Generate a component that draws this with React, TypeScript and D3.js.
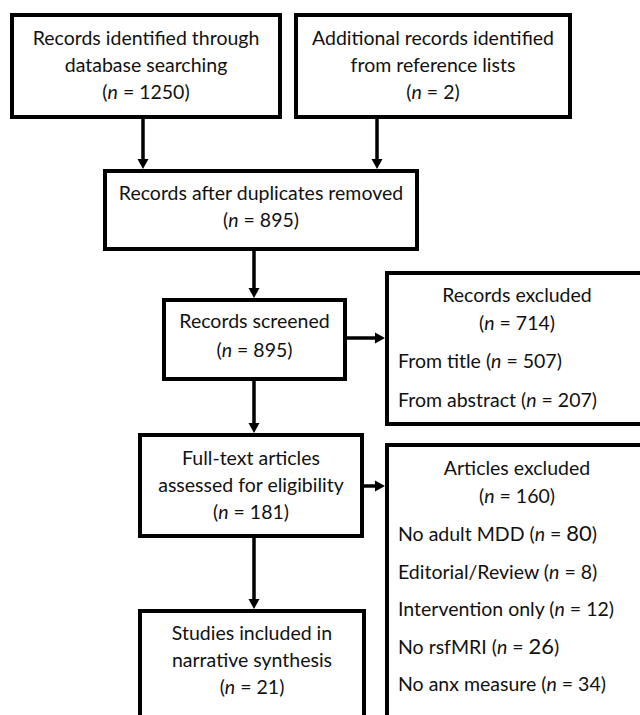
import React from "react";
import * as d3 from "d3";

// ---- data ----
const identificationLabels = [
  ["Records identified through", "database searching"],
  ["Additional records identified", "from reference lists"],
];
const identificationCounts = [1250, 2];

const stageLabels = [
  ["Records after duplicates removed"],
  ["Records screened"],
  ["Full-text articles", "assessed for eligibility"],
  ["Studies included in", "narrative synthesis"],
];
const stageCounts = [895, 895, 181, 21];

const recordsExcludedTitle = "Records excluded";
const recordsExcludedTotal = 714;
const recordsExcludedReasons = ["From title", "From abstract"];
const recordsExcludedCounts = [507, 207];

const articlesExcludedTitle = "Articles excluded";
const articlesExcludedTotal = 160;
const articlesExcludedReasons = ["No adult MDD", "Editorial/Review", "Intervention only", "No rsfMRI", "No anx measure"];
const articlesExcludedCounts = [80, 8, 12, 26, 34];
// counts that were typeset in a slightly larger font in the original
const largerCounts = [80, 26];

// ---- layout ----
const W = 640;
const H = 715;
const FONT = "Lato, 'Open Sans', sans-serif";
const FS = 19.5;
const LINE = 27;
const STROKE = 4;

type Box = { x0: number; x1: number; y0: number; y1: number };
const idBoxes: Box[] = [
  { x0: 12, x1: 280, y0: 15, y1: 117 },
  { x0: 296, x1: 570, y0: 15, y1: 117 },
];
const stageBoxes: Box[] = [
  { x0: 105, x1: 417, y0: 171, y1: 249 },
  { x0: 164, x1: 345, y0: 300, y1: 379 },
  { x0: 140, x1: 362, y0: 435, y1: 536 },
  { x0: 140, x1: 364, y0: 611, y1: 760 },
];
const exclBoxes: Box[] = [
  { x0: 387, x1: 662, y0: 273, y1: 424 },
  { x0: 387, x1: 662, y0: 445, y1: 760 },
];
const idFirstBaseline = 45;
const stageFirstBaselines = [200, 328, 465, 640];
const exclHeaderBaselines = [302, 475];
const exclItemBaselines = [368, 541];
const exclItemSteps = [39, 37.5];

const line = d3.line<[number, number]>();

function CountText({ n, size = FS }: { n: number; size?: number }) {
  const big = largerCounts.includes(n);
  return (
    <>
      (<tspan fontStyle="italic">n</tspan> = <tspan fontSize={big ? size + 2.5 : size}>{n}</tspan>)
    </>
  );
}

function Arrow({ from, to }: { from: [number, number]; to: [number, number] }) {
  const ang = Math.atan2(to[1] - from[1], to[0] - from[0]);
  const L = 10;
  const hw = 5.5;
  const base: [number, number] = [to[0] - L * Math.cos(ang), to[1] - L * Math.sin(ang)];
  const p1: [number, number] = [base[0] + hw * Math.sin(ang), base[1] - hw * Math.cos(ang)];
  const p2: [number, number] = [base[0] - hw * Math.sin(ang), base[1] + hw * Math.cos(ang)];
  return (
    <g>
      <path d={line([from, base]) || ""} stroke="#000" strokeWidth={3.5} fill="none" />
      <path d={(line([to, p1, p2]) || "") + "Z"} fill="#000" />
    </g>
  );
}

function Rect({ b }: { b: Box }) {
  return (
    <rect x={b.x0} y={b.y0} width={b.x1 - b.x0} height={b.y1 - b.y0} fill="#fff" stroke="#000" strokeWidth={STROKE} />
  );
}

export default function App() {
  const cx = (b: Box) => (b.x0 + b.x1) / 2;
  const arrowX = [143, 377];
  const mainX = 254;
  return (
    <svg
      width={W}
      height={H}
      viewBox={`0 0 ${W} ${H}`}
      style={{ position: "absolute", left: 0, top: 0, background: "#fff" }}
      fontFamily={FONT}
      fontSize={FS}
      fill="#111"
    >
      <rect x={0} y={0} width={W} height={H} fill="#fff" />

      {/* arrows */}
      {idBoxes.map((b, i) => (
        <Arrow key={"ia" + i} from={[arrowX[i], b.y1]} to={[arrowX[i], stageBoxes[0].y0 - 2]} />
      ))}
      {stageBoxes.slice(0, -1).map((b, i) => (
        <Arrow key={"sa" + i} from={[mainX, b.y1]} to={[mainX, stageBoxes[i + 1].y0 - 2]} />
      ))}
      <Arrow from={[stageBoxes[1].x1, 338]} to={[exclBoxes[0].x0 - 2, 338]} />
      <Arrow from={[stageBoxes[2].x1, 486]} to={[exclBoxes[1].x0 - 2, 486]} />

      {/* identification boxes */}
      {idBoxes.map((b, i) => (
        <g key={"id" + i}>
          <Rect b={b} />
          <text textAnchor="middle">
            {identificationLabels[i].map((t, j) => (
              <tspan key={j} x={cx(b)} y={idFirstBaseline + j * LINE}>
                {t}
              </tspan>
            ))}
            <tspan x={cx(b)} y={idFirstBaseline + identificationLabels[i].length * LINE}>
              <CountText n={identificationCounts[i]} />
            </tspan>
          </text>
        </g>
      ))}

      {/* stage boxes */}
      {stageBoxes.map((b, i) => (
        <g key={"st" + i}>
          <Rect b={b} />
          <text textAnchor="middle">
            {stageLabels[i].map((t, j) => (
              <tspan key={j} x={cx(b)} y={stageFirstBaselines[i] + j * LINE}>
                {t}
              </tspan>
            ))}
            <tspan x={cx(b)} y={stageFirstBaselines[i] + stageLabels[i].length * (i === 1 ? 28.5 : LINE)}>
              <CountText n={stageCounts[i]} />
            </tspan>
          </text>
        </g>
      ))}

      {/* exclusion boxes */}
      {[
        { title: recordsExcludedTitle, total: recordsExcludedTotal, reasons: recordsExcludedReasons, counts: recordsExcludedCounts },
        { title: articlesExcludedTitle, total: articlesExcludedTotal, reasons: articlesExcludedReasons, counts: articlesExcludedCounts },
      ].map((e, i) => {
        const b = exclBoxes[i];
        const hx = 517;
        return (
          <g key={"ex" + i}>
            <Rect b={b} />
            <text textAnchor="middle">
              <tspan x={hx} y={exclHeaderBaselines[i]}>
                {e.title}
              </tspan>
              <tspan x={hx} y={exclHeaderBaselines[i] + 28}>
                <CountText n={e.total} />
              </tspan>
            </text>
            {e.reasons.map((r, j) => (
              <text key={j} x={b.x0 + 11} y={exclItemBaselines[i] + j * exclItemSteps[i]}>
                {r} <CountText n={e.counts[j]} />
              </text>
            ))}
          </g>
        );
      })}
    </svg>
  );
}
